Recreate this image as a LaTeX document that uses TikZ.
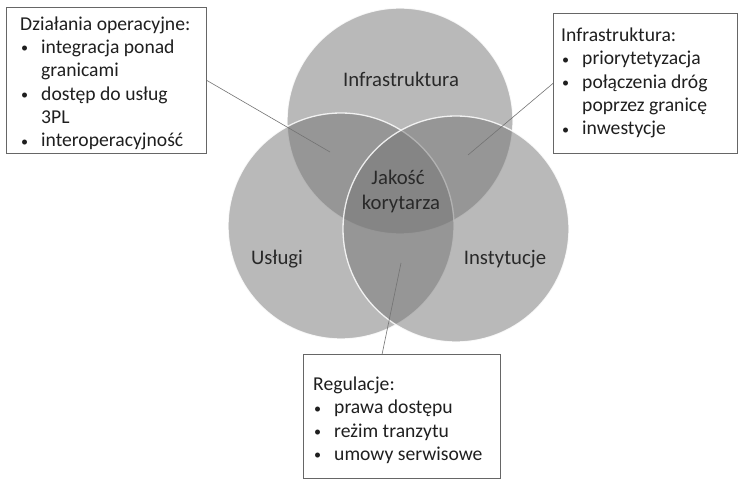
\documentclass[tikz,border=0pt]{standalone}
\usepackage{fontspec}
\setmainfont{Carlito}
\usetikzlibrary{calc}
\definecolor{vfill}{gray}{0.46}
\definecolor{txtc}{gray}{0.12}
\definecolor{lblc}{gray}{0.16}
\definecolor{boxc}{gray}{0.40}
\definecolor{connc}{gray}{0.45}
\newcommand{\itm}{\makebox[21bp][l]{\hspace*{1bp}\raisebox{0.6bp}{\scalebox{0.72}{\textbullet}}}}
\newcommand{\ind}{\hspace*{21bp}}
\begin{document}
\begin{tikzpicture}[x=1bp,y=-1bp,
  venn/.style={circle, minimum size=226bp, inner sep=0, fill=vfill, fill opacity=0.5, draw=white, draw opacity=0.85, line width=1.3pt},
  boxnode/.style={draw=boxc, line width=0.8pt, inner sep=0, anchor=north west, fill=white},
  lbl/.style={text=lblc, font=\fontsize{20.8}{25}\selectfont, inner sep=0, anchor=base, align=center},
  btext/.style={text=txtc, font=\fontsize{19.7}{23.4}\selectfont, inner sep=0, anchor=north west, align=left},
  conn/.style={draw=connc, line width=0.6pt}]
\fill[white] (0,0) rectangle (740,480);
\useasboundingbox (0,0) rectangle (740,480);
% circles
\node[venn] (ct) at (400,121) {};
\node[venn] (cl) at (341,226) {};
\node[venn] (cr) at (456,229) {};
% circle labels
\node[lbl] (lt) at (401,87) {Infrastruktura};
\node[lbl] (lc1) at (398,185) {Jakość};
\node[lbl] (lc2) at (401,210) {korytarza};
\node[lbl] (ll) at (277,265) {Usługi};
\node[lbl] (lr) at (505,265) {Instytucje};
% boxes
\node[boxnode, minimum width=200bp, minimum height=146bp] (b1) at (6,7) {};
\node[boxnode, minimum width=184bp, minimum height=140bp] (b2) at (553,13) {};
\node[boxnode, minimum width=197bp, minimum height=124bp] (b3) at (303,354) {};
% box texts
\node[btext] (t1) at (20,13.6) {\strut Działania operacyjne:\\ \itm integracja ponad\\ \ind granicami\\ \itm dostęp do usług\\ \ind 3PL\\ \itm interoperacyjność};
\node[btext] (t2) at (561,25) {\strut Infrastruktura:\\ \itm priorytetyzacja\\ \itm połączenia dróg\\ \ind poprzez granicę\\ \itm inwestycje};
\node[btext] (t3) at (313,374) {\strut Regulacje:\\ \itm prawa dostępu\\ \itm reżim tranzytu\\ \itm umowy serwisowe};
% connectors
\coordinate (e1) at (330,152);
\coordinate (e2) at (468,155);
\coordinate (e3) at (401,263);
\draw[conn] (b1.east) -- (e1);
\draw[conn] (b2.west) -- (e2);
\draw[conn] ($(b3.north west)!0.4!(b3.north east)$) -- (e3);
\end{tikzpicture}
\end{document}
